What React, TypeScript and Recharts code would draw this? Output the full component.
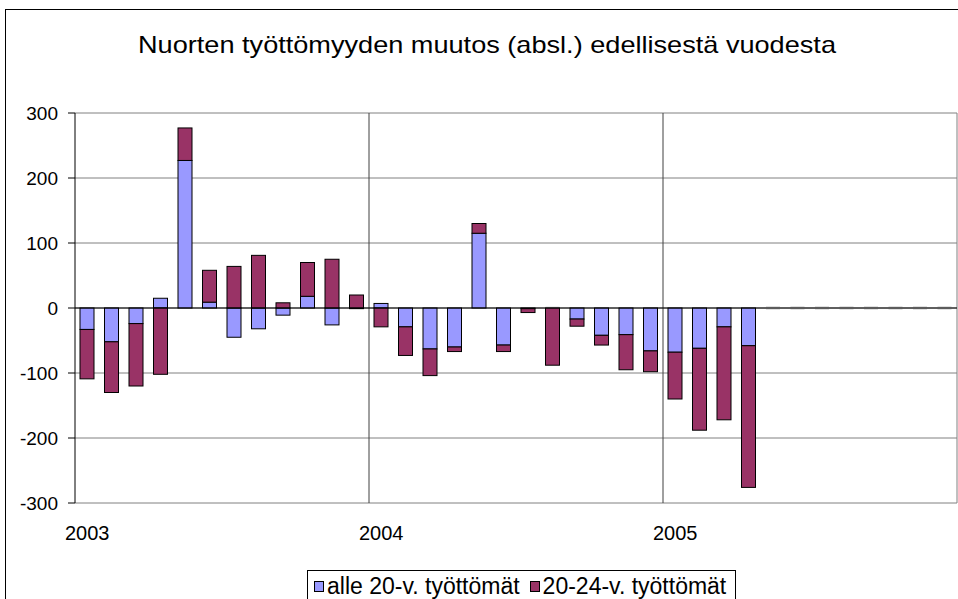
import React from "react";
import {
  BarChart,
  Bar,
  XAxis,
  YAxis,
  CartesianGrid,
  Legend,
  ReferenceLine,
} from "recharts";

const months = [
  "2003-01", "2003-02", "2003-03", "2003-04", "2003-05", "2003-06",
  "2003-07", "2003-08", "2003-09", "2003-10", "2003-11", "2003-12",
  "2004-01", "2004-02", "2004-03", "2004-04", "2004-05", "2004-06",
  "2004-07", "2004-08", "2004-09", "2004-10", "2004-11", "2004-12",
  "2005-01", "2005-02", "2005-03", "2005-04", "2005-05", "2005-06",
  "2005-07", "2005-08", "2005-09", "2005-10", "2005-11", "2005-12",
];

// alle 20-v. työttömät
const under20 = [
  -33, -52, -24, 15, 227, 9, -45, -32, -11, 18, -26, -1,
  7, -29, -63, -60, 115, -57, -1, 0, -17, -42, -41, -66,
  -68, -62, -29, -58, 0, 0, 0, 0, 0, 0, 0, 0,
];

// 20-24-v. työttömät
const age20to24 = [
  -76, -78, -96, -102, 50, 49, 64, 81, 8, 52, 75, 20,
  -29, -44, -41, -7, 15, -10, -6, -88, -11, -15, -54, -32,
  -72, -126, -143, -218, 0, 0, 0, 0, 0, 0, 0, 0,
];

const seriesNames = ["alle 20-v. työttömät", "20-24-v. työttömät"];
const yTicks = [-300, -200, -100, 0, 100, 200, 300];
const yearTicks = ["2003-01", "2004-01", "2005-01"];

const data = months.map((m, i) => ({
  month: m,
  a: under20[i],
  b: age20to24[i],
}));

const FONT = "'Liberation Sans', Arial, sans-serif";

// vertical lines at the start of each new year (band edges, not band centres)
const yearLines = ({ offset }: any) =>
  yearTicks
    .slice(1)
    .map((m) => offset.left + (offset.width * months.indexOf(m)) / months.length);

// right edge of the plot area
const rightEdge = ({ offset }: any) => [offset.left + offset.width];

const BarShape = (props: any) => {
  let { x, y, width, height, fill } = props;
  if (!height) {
    return (
      <line x1={x} x2={x + width} y1={y} y2={y} stroke="#b8b8b8" strokeWidth={2.5} />
    );
  }
  if (height < 0) {
    y = y + height;
    height = -height;
  }
  return <rect x={x} y={y} width={width} height={height} fill={fill} stroke="#000" strokeWidth={1} />;
};

const renderLegend = (props: any) => {
  const payload = [...(props.payload || [])].sort(
    (p: any, q: any) => seriesNames.indexOf(p.value) - seriesNames.indexOf(q.value)
  );
  return (
    <div
      style={{
        display: "inline-flex",
        alignItems: "center",
        border: "1px solid #000",
        background: "#fff",
        padding: "2px 9px 8px 6px",
        fontFamily: FONT,
        fontSize: 23,
        color: "#000",
        whiteSpace: "nowrap",
      }}
    >
      {payload.map((p: any, i: number) => (
        <span key={i} style={{ display: "inline-flex", alignItems: "center", marginRight: i === 0 ? 10 : 0 }}>
          <span
            style={{
              display: "inline-block",
              width: 8,
              height: 9,
              background: p.color,
              border: "1px solid #000",
              marginRight: 3,
            }}
          />
          {p.value}
        </span>
      ))}
    </div>
  );
};

export default function App() {
  return (
    <div
      style={{
        position: "absolute",
        left: 0,
        top: 0,
        width: 958,
        height: 599,
        overflow: "hidden",
        background: "#fff",
      }}
    >
      <div
        style={{
          position: "absolute",
          left: 5,
          top: 9,
          width: 1200,
          height: 900,
          borderLeft: "1px solid #000",
          borderTop: "1px solid #000",
        }}
      />
      <div
        style={{
          position: "absolute",
          left: 487,
          top: 33,
          transform: "translateX(-50%) scaleX(1.13)",
          fontFamily: FONT,
          fontSize: 24,
          lineHeight: "24px",
          whiteSpace: "nowrap",
          color: "#000",
        }}
      >
        Nuorten työttömyyden muutos (absl.) edellisestä vuodesta
      </div>
      <div style={{ position: "absolute", left: 0, top: 0 }}>
        <BarChart
          width={958}
          height={599}
          data={data}
          stackOffset="sign"
          barSize={14}
          margin={{ top: 113, right: 1, bottom: 66, left: 0 }}
        >
          <CartesianGrid
            horizontal
            vertical
            stroke="#808080"
            verticalCoordinatesGenerator={rightEdge}
          />
          <CartesianGrid
            horizontal={false}
            vertical
            stroke="#404040"
            verticalCoordinatesGenerator={yearLines}
          />
          <XAxis
            dataKey="month"
            type="category"
            ticks={yearTicks}
            interval={0}
            tickLine={false}
            axisLine={false}
            tickSize={6}
            tickMargin={17}
            height={30}
            tickFormatter={(v: string) => v.slice(0, 4)}
            tick={{ fill: "#000", fontSize: 20, fontFamily: FONT }}
          />
          <YAxis
            type="number"
            domain={[-300, 300]}
            ticks={yTicks}
            interval={0}
            width={75}
            tickSize={7}
            tickMargin={10}
            axisLine={{ stroke: "#000" }}
            tickLine={{ stroke: "#000" }}
            tick={{ fill: "#000", fontSize: 19, fontFamily: FONT }}
          />
          <Bar
            dataKey="a"
            name={seriesNames[0]}
            stackId="s"
            fill="#9999FF"
            shape={BarShape}
            isAnimationActive={false}
          />
          <Bar
            dataKey="b"
            name={seriesNames[1]}
            stackId="s"
            fill="#993366"
            shape={BarShape}
            isAnimationActive={false}
          />
          <ReferenceLine y={0} stroke="#000" />
          <Legend
            layout="horizontal"
            verticalAlign="middle"
            align="center"
            wrapperStyle={{ left: 307, top: 570, width: "auto", height: "auto" }}
            content={renderLegend}
          />
        </BarChart>
      </div>
    </div>
  );
}
